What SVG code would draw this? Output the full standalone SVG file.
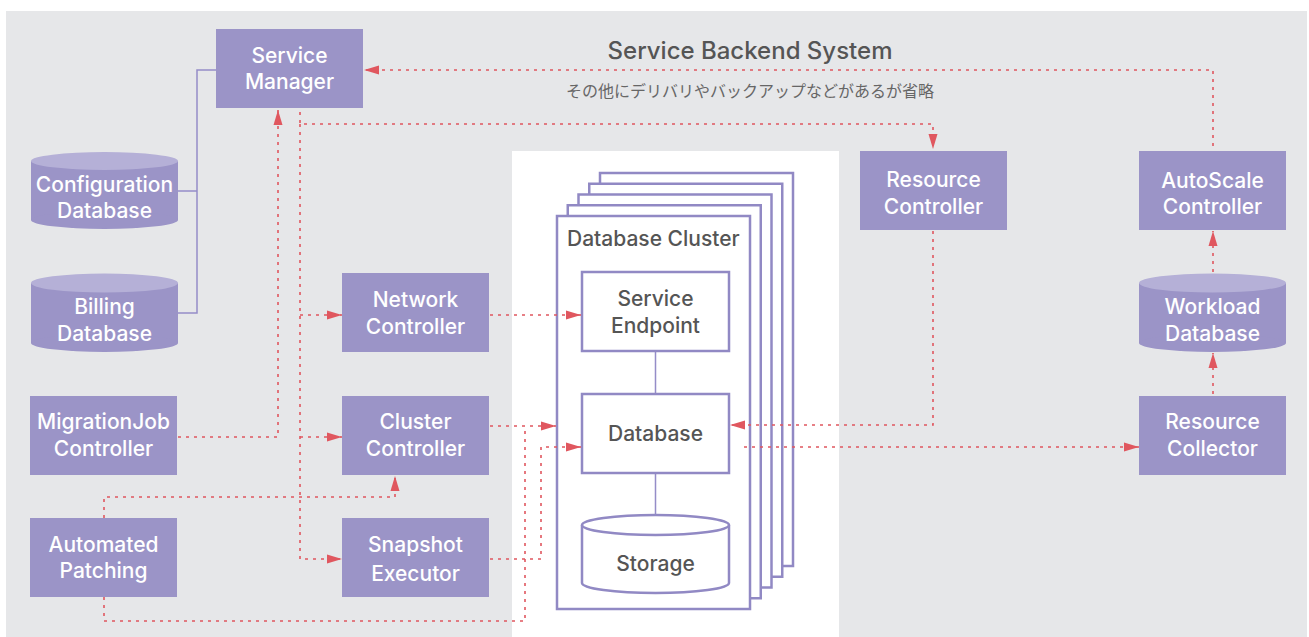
<svg xmlns="http://www.w3.org/2000/svg" width="1309" height="637" viewBox="0 0 1309 637">
  <style>
    .node { fill: #9b94c7; }
    .dbtop { fill: #b5b0d7; }
    .lbl { font-family: Inter, "Open Sans", "Liberation Sans", sans-serif; font-size: 21px; font-weight: 500; fill: #ffffff; text-anchor: middle; dominant-baseline: central; }
    .ilbl { font-family: Inter, "Open Sans", "Liberation Sans", sans-serif; font-size: 21px; font-weight: 500; fill: #555555; text-anchor: middle; dominant-baseline: central; }
    .frame { fill: #ffffff; stroke: #9189c4; stroke-width: 2.5; }
    .solid { fill: none; stroke: #958dc8; stroke-width: 1.5; }
    .flow { fill: none; stroke: #e0575f; stroke-width: 1.6; stroke-dasharray: 3 5; }
  </style>
  <defs>
    <marker id="arrow" markerUnits="userSpaceOnUse" markerWidth="15" markerHeight="10" refX="15" refY="5" orient="auto">
      <path d="M0,0.5 L15,5 L0,9.5 z" fill="#e0575f"/>
    </marker>
  </defs>

  <!-- backdrop -->
  <rect x="6" y="11" width="1301" height="626" fill="#e6e7e9"/>
  <rect x="512" y="151" width="327" height="486" fill="#ffffff"/>

  <!-- titles -->
  <text x="750" y="50" font-family="Inter, 'Open Sans', 'Liberation Sans', sans-serif" font-size="24" font-weight="500" fill="#555555" text-anchor="middle" dominant-baseline="central">Service Backend System</text>
  <text x="750" y="90" font-family="'Noto Sans CJK JP', 'Noto Sans', sans-serif" font-size="16" fill="#666666" text-anchor="middle" dominant-baseline="central">その他にデリバリやバックアップなどがあるが省略</text>

  <!-- solid links between management databases -->
  <g id="db-links">
    <path class="solid" d="M216,70 H197 V313 H178"/>
    <path class="solid" d="M178,191 H197"/>
  </g>

  <!-- management plane -->
  <g id="service-manager">
    <rect class="node" x="216" y="29" width="147" height="79"/>
    <text class="lbl" x="289.5" y="55">Service</text>
    <text class="lbl" x="289.5" y="81">Manager</text>
  </g>

  <g id="configuration-database">
    <rect class="node" x="31" y="161" width="147" height="59"/>
    <ellipse class="node" cx="104.5" cy="220" rx="73.5" ry="9"/>
    <ellipse class="dbtop" cx="104.5" cy="161" rx="73.5" ry="9"/>
    <text class="lbl" x="104.5" y="184">Configuration</text>
    <text class="lbl" x="104.5" y="210">Database</text>
  </g>

  <g id="billing-database">
    <rect class="node" x="31" y="283" width="147" height="60"/>
    <ellipse class="node" cx="104.5" cy="343" rx="73.5" ry="9"/>
    <ellipse class="dbtop" cx="104.5" cy="283" rx="73.5" ry="9.5"/>
    <text class="lbl" x="104.5" y="306">Billing</text>
    <text class="lbl" x="104.5" y="333">Database</text>
  </g>

  <g id="migrationjob-controller">
    <rect class="node" x="30" y="396" width="147" height="79"/>
    <text class="lbl" x="103.5" y="421">MigrationJob</text>
    <text class="lbl" x="103.5" y="448">Controller</text>
  </g>

  <g id="automated-patching">
    <rect class="node" x="30" y="518" width="147" height="79"/>
    <text class="lbl" x="103.5" y="544">Automated</text>
    <text class="lbl" x="103.5" y="570">Patching</text>
  </g>

  <g id="network-controller">
    <rect class="node" x="342" y="273" width="147" height="79"/>
    <text class="lbl" x="415.5" y="299">Network</text>
    <text class="lbl" x="415.5" y="326">Controller</text>
  </g>

  <g id="cluster-controller">
    <rect class="node" x="342" y="396" width="147" height="79"/>
    <text class="lbl" x="415.5" y="421">Cluster</text>
    <text class="lbl" x="415.5" y="448">Controller</text>
  </g>

  <g id="snapshot-executor">
    <rect class="node" x="342" y="518" width="147" height="79"/>
    <text class="lbl" x="415.5" y="544">Snapshot</text>
    <text class="lbl" x="415.5" y="573">Executor</text>
  </g>

  <g id="resource-controller">
    <rect class="node" x="860" y="151" width="147" height="79"/>
    <text class="lbl" x="933.5" y="179">Resource</text>
    <text class="lbl" x="933.5" y="206">Controller</text>
  </g>

  <g id="autoscale-controller">
    <rect class="node" x="1139" y="151" width="147" height="79"/>
    <text class="lbl" x="1212.5" y="180">AutoScale</text>
    <text class="lbl" x="1212.5" y="206">Controller</text>
  </g>

  <g id="workload-database">
    <rect class="node" x="1139" y="283" width="147" height="60"/>
    <ellipse class="node" cx="1212.5" cy="343" rx="73.5" ry="9"/>
    <ellipse class="dbtop" cx="1212.5" cy="283" rx="73.5" ry="9.5"/>
    <text class="lbl" x="1212.5" y="306">Workload</text>
    <text class="lbl" x="1212.5" y="333">Database</text>
  </g>

  <g id="resource-collector">
    <rect class="node" x="1139" y="396" width="147" height="79"/>
    <text class="lbl" x="1212.5" y="421">Resource</text>
    <text class="lbl" x="1212.5" y="448">Collector</text>
  </g>

  <!-- stacked database cluster instances -->
  <g id="database-cluster">
    <rect class="frame" x="600" y="173" width="193" height="393"/>
    <rect class="frame" x="589.25" y="183.75" width="193" height="393"/>
    <rect class="frame" x="578.5" y="194.5" width="193" height="393"/>
    <rect class="frame" x="567.75" y="205.25" width="193" height="393"/>
    <rect class="frame" x="557" y="216" width="193" height="393"/>
    <text x="567" y="238" font-family="Inter, 'Open Sans', 'Liberation Sans', sans-serif" font-size="21" font-weight="500" fill="#555555" dominant-baseline="central">Database Cluster</text>
    <path class="solid" d="M655.5,351 V394 M655.5,473 V515"/>
  </g>

  <g id="service-endpoint">
    <rect class="frame" x="582" y="272" width="147" height="79"/>
    <text class="ilbl" x="655.5" y="298">Service</text>
    <text class="ilbl" x="655.5" y="325">Endpoint</text>
  </g>

  <g id="database">
    <rect class="frame" x="582" y="394" width="147" height="79"/>
    <text class="ilbl" x="655.5" y="433">Database</text>
  </g>

  <g id="storage">
    <path class="frame" d="M582,525 V583 A73.5,10 0 0 0 729,583 V525"/>
    <ellipse class="frame" cx="655.5" cy="525" rx="73.5" ry="10"/>
    <text class="ilbl" x="655.5" y="563">Storage</text>
  </g>

  <!-- flow connectors, drawn over the cluster frames -->
  <g id="connectors">
    <path class="flow" d="M1213,146 V70 H364" marker-end="url(#arrow)"/>
    <path class="flow" d="M300,112 V124 H933 V149" marker-end="url(#arrow)"/>
    <path class="flow" d="M300,124 V559 H342" marker-end="url(#arrow)"/>
    <path class="flow" d="M300,315 H342" marker-end="url(#arrow)"/>
    <path class="flow" d="M300,437 H342" marker-end="url(#arrow)"/>
    <path class="flow" d="M178,437 H278 V110" marker-end="url(#arrow)"/>
    <path class="flow" d="M104,518 V497 H395 V476" marker-end="url(#arrow)"/>
    <path class="flow" d="M104,597 V621 H525 V426"/>
    <path class="flow" d="M490,426 H556" marker-end="url(#arrow)"/>
    <path class="flow" d="M490,559 H541 V447 H581" marker-end="url(#arrow)"/>
    <path class="flow" d="M490,315 H581" marker-end="url(#arrow)"/>
    <path class="flow" d="M933,231 V425 H730" marker-end="url(#arrow)"/>
    <path class="flow" d="M744,447 H1139" marker-end="url(#arrow)"/>
    <path class="flow" d="M1213,394 V353" marker-end="url(#arrow)"/>
    <path class="flow" d="M1213,272 V231" marker-end="url(#arrow)"/>
  </g>
</svg>
